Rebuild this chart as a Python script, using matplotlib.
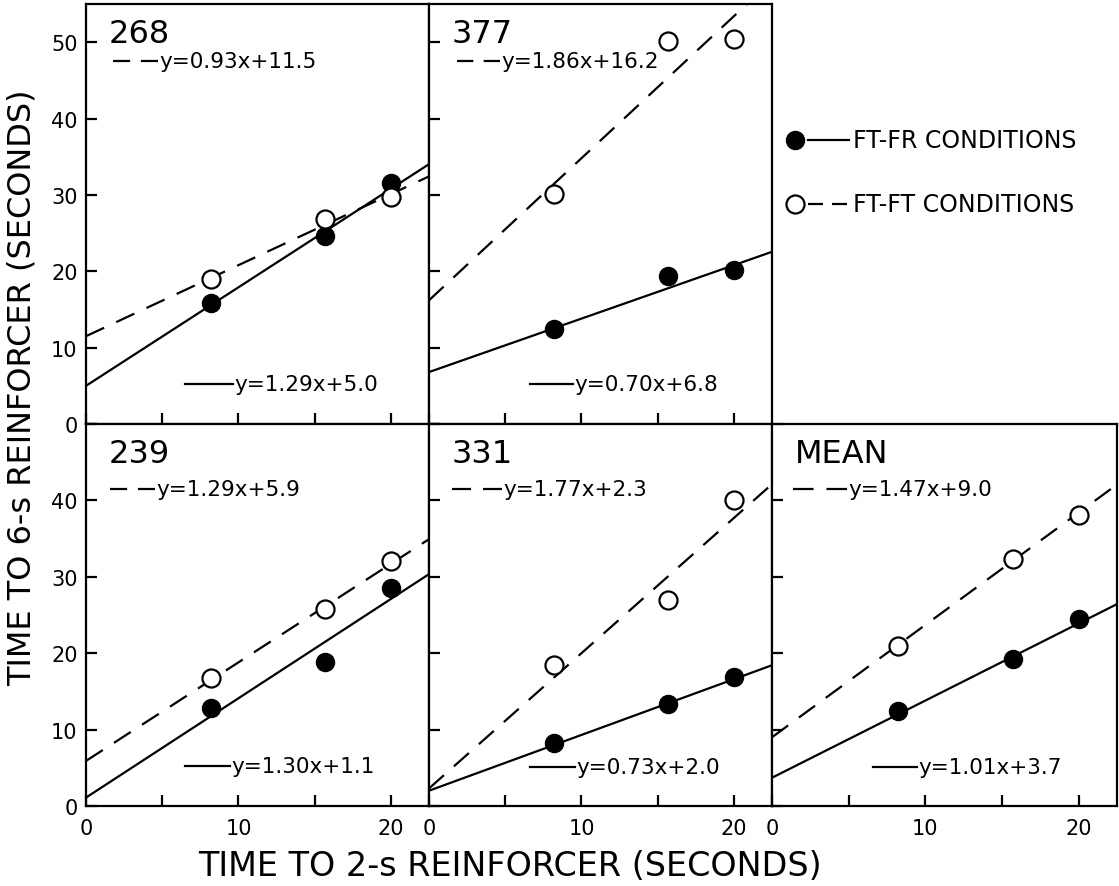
import numpy as np
import matplotlib
matplotlib.use("Agg")
import matplotlib.pyplot as plt

plt.rcParams['font.family'] = ['DejaVu Sans']

# ---- data ----
panel_names = ["268", "377", "239", "331", "MEAN"]
x_vals = [8.2, 15.7, 20.0]

frfr_268 = [15.9, 24.6, 31.6]
ftft_268 = [19.0, 26.8, 29.7]
frfr_377 = [12.5, 19.4, 20.2]
ftft_377 = [30.1, 50.2, 50.4]
frfr_239 = [12.8, 18.9, 28.5]
ftft_239 = [16.7, 25.8, 32.1]
frfr_331 = [8.3, 13.4, 16.9]
ftft_331 = [18.4, 26.9, 40.1]
frfr_mean = [12.4, 19.2, 24.5]
ftft_mean = [21.0, 32.3, 38.1]

# regression fits (slope, intercept)
fit_frfr = {"268": (1.29, 5.0), "377": (0.70, 6.8), "239": (1.30, 1.1),
            "331": (0.73, 2.0), "MEAN": (1.01, 3.7)}
fit_ftft = {"268": (0.93, 11.5), "377": (1.86, 16.2), "239": (1.29, 5.9),
            "331": (1.77, 2.3), "MEAN": (1.47, 9.0)}

frfr = {"268": frfr_268, "377": frfr_377, "239": frfr_239, "331": frfr_331, "MEAN": frfr_mean}
ftft = {"268": ftft_268, "377": ftft_377, "239": ftft_239, "331": ftft_331, "MEAN": ftft_mean}

legend_labels = ["FT-FR CONDITIONS", "FT-FT CONDITIONS"]
xlabel = "TIME TO 2-s REINFORCER (SECONDS)"
ylabel = "TIME TO 6-s REINFORCER (SECONDS)"

# ---- layout ----
W, H = 1119, 887
fig = plt.figure(figsize=(W / 100, H / 100), dpi=100)

cols = [(86, 429), (429, 772), (772, 1117)]
rows = [(5, 425), (425, 807)]

def frac(col, row):
    x0, x1 = cols[col]
    y0, y1 = rows[row]
    return [x0 / W, 1 - y1 / H, (x1 - x0) / W, (y1 - y0) / H]

positions = {"268": (0, 0), "377": (1, 0), "239": (0, 1), "331": (1, 1), "MEAN": (2, 1)}

LW = 1.6
dash = (0, (9, 6))

# key positions in pixels (dashed key x0,x1,y ; solid key x0,x1,y)
keys = {
    "268": ((113, 158, 62), (185, 233, 385)),
    "377": ((457, 500, 62), (530, 573, 385)),
    "239": ((110, 155, 490), (185, 230, 767)),
    "331": ((452, 502, 490), (530, 575, 768)),
    "MEAN": ((793, 847, 490), (873, 917, 768)),
}

def px2ax(col, row, px, py):
    x0, x1 = cols[col]
    y0, y1 = rows[row]
    return (px - x0) / (x1 - x0), 1 - (py - y0) / (y1 - y0)

for name in panel_names:
    col, row = positions[name]
    ax = fig.add_axes(frac(col, row))
    ax.set_xlim(0, 22.5)
    ax.set_ylim(0, 55 if row == 0 else 50)

    m, b = fit_frfr[name]
    ax.axline((0, b), slope=m, color='black', lw=LW, zorder=2)
    m2, b2 = fit_ftft[name]
    ax.axline((0, b2), slope=m2, color='black', lw=LW, ls=dash, zorder=2)

    ax.plot(x_vals, frfr[name], 'o', ms=13, mfc='black', mec='black', zorder=3, clip_on=False)
    ax.plot(x_vals, ftft[name], 'o', ms=13, mfc='white', mec='black', mew=1.6, zorder=3, clip_on=False)

    for s in ax.spines.values():
        s.set_linewidth(1.6)

    ax.tick_params(direction='in', length=8, width=1.6, labelsize=15,
                   top=False, right=False)
    ax.set_xticks([0, 5, 10, 15, 20])
    ax.set_yticks([0, 10, 20, 30, 40, 50])
    if row == 1:
        ax.set_xticklabels(['0', '', '10', '', '20'])
        ax.tick_params(axis='x', pad=9)
    else:
        ax.set_xticklabels([])
    if col == 0:
        if row == 0:
            ax.set_yticklabels(['0', '10', '20', '30', '40', '50'])
        else:
            ax.set_yticklabels(['0', '10', '20', '30', '40', ''])
        ax.tick_params(axis='y', pad=6)
    else:
        ax.set_yticklabels([])

    # panel label
    lx, ly = px2ax(col, row, cols[col][0] + 23, rows[row][0] + 14)
    ax.text(lx, ly, name, transform=ax.transAxes, fontsize=23, va='top', ha='left')

    (dx0, dx1, dy), (sx0, sx1, sy) = keys[name]
    a0, ay = px2ax(col, row, dx0, dy)
    a1, _ = px2ax(col, row, dx1, dy)
    seg = (dx1 - dx0)
    d_on = seg * 0.38 / 1.389 / LW
    d_off = seg * 0.24 / 1.389 / LW
    ax.plot([a0, a1], [ay, ay], transform=ax.transAxes, color='black', lw=LW,
            ls=(0, (d_on, d_off)), clip_on=False, solid_capstyle='butt', dash_capstyle='butt')
    ax.text(a1 + 0.003, ay, f"y={m2:.2f}x+{b2:.1f}", transform=ax.transAxes,
            fontsize=15.5, va='center', ha='left')
    s0, sy_ = px2ax(col, row, sx0, sy)
    s1, _ = px2ax(col, row, sx1, sy)
    ax.plot([s0, s1], [sy_, sy_], transform=ax.transAxes, color='black', lw=LW, clip_on=False)
    ax.text(s1 + 0.003, sy_, f"y={m:.2f}x+{b:.1f}", transform=ax.transAxes,
            fontsize=15.5, va='center', ha='left')

# legend region (top right)
lax = fig.add_axes(frac(2, 0))
lax.set_xlim(0, 1)
lax.set_ylim(0, 1)
lax.axis('off')

def lpx(px, py):
    return px2ax(2, 0, px, py)

p = lpx(795, 141)
lax.plot([p[0]], [p[1]], 'o', ms=13, mfc='black', mec='black', clip_on=False)
a, y1 = lpx(808, 141)
b_, _ = lpx(849, 141)
lax.plot([a, b_], [y1, y1], color='black', lw=LW, clip_on=False)
t, _ = lpx(853, 141)
lax.text(t, y1, legend_labels[0], fontsize=17, va='center', ha='left')

p = lpx(795, 205)
lax.plot([p[0]], [p[1]], 'o', ms=13, mfc='white', mec='black', mew=1.6, clip_on=False)
a, y2 = lpx(808, 205)
b_, _ = lpx(850, 205)
lax.plot([a, b_], [y2, y2], color='black', lw=LW, ls=(0, (15 / 1.389 / LW, 9 / 1.389 / LW)),
         clip_on=False, dash_capstyle='butt')
lax.text(t, y2, legend_labels[1], fontsize=17, va='center', ha='left')

fig.text(510 / W, 1 - 867 / H, xlabel, fontsize=24, ha='center', va='center')
fig.text(22 / W, 1 - 388 / H, ylabel, fontsize=23, ha='center', va='center', rotation=90)

fig.savefig("out.png", dpi=100)
